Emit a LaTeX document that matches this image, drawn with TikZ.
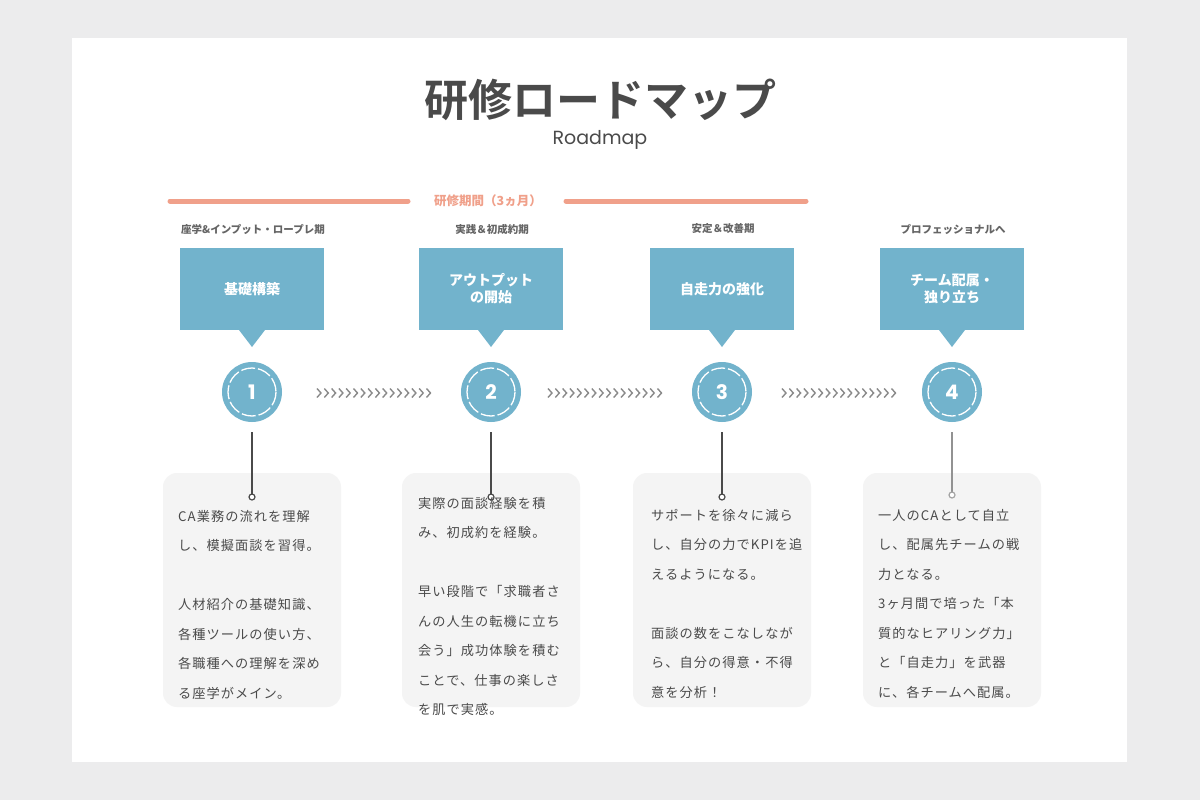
\documentclass[tikz,border=0pt]{standalone}
\usepackage{fontspec}
\setmainfont{Noto Sans CJK JP}
\newfontfamily\jpb{Noto Sans CJK JP}[BoldFont={* Bold}]
\newfontfamily\jpsp{Noto Sans CJK JP}[LetterSpace=8]
\newfontfamily\popp{Poppins}
\definecolor{bgc}{HTML}{ECECED}
\definecolor{ink}{HTML}{4A4A4A}
\definecolor{salmon}{HTML}{F0A08A}
\definecolor{blu}{HTML}{72B3CC}
\definecolor{cardc}{HTML}{F4F4F4}
\definecolor{chev}{HTML}{8A8A8A}
\begin{document}
\begin{tikzpicture}[x=1pt,y=-1pt,
 phase/.style={font=\fontsize{10.5}{12}\selectfont\bfseries, text=ink!85},
 bbox/.style={fill=blu, minimum width=144, minimum height=82, inner sep=0, text=white, align=center, font=\fontsize{14}{17}\selectfont\bfseries},
 num/.style={circle, fill=blu, minimum size=60, text=white, font=\popp\fontsize{20}{20}\selectfont\bfseries},
 card/.style={fill=cardc, rounded corners=14, minimum width=178, minimum height=234, inner sep=0},
 body/.style={anchor=north west, align=left, inner sep=0, text=ink, font=\jpsp\fontsize{13.2}{29.5}\selectfont},
 dot/.style={circle, draw=#1, fill=white, line width=1.2, inner sep=0, minimum size=6},
 stem/.style={line width=1.6}]
\fill[bgc] (0,0) rectangle (1200,800);
\fill[white] (72,38) rectangle (1127,762);
\useasboundingbox (0,0) rectangle (1200,800);
\node[font=\jpb\fontsize{44}{44}\selectfont\bfseries, text=ink] (title) at (600,100) {研修ロードマップ};
\node[font=\popp\fontsize{19}{19}\selectfont, text=ink] (sub) at (600,140) {Roadmap};
\node[font=\fontsize{12.5}{13}\selectfont\bfseries, text=salmon] (period) at (488,201) {研修期間（3ヵ月）};
\draw[salmon, line width=5, line cap=round] (170,201) -- (408,201);
\draw[salmon, line width=5, line cap=round] (566,201) -- (806,201);
\foreach \i/\x/\lab/\top in {1/252/座学\&インプット・ロープレ期/基礎構築,2/491/実践＆初成約期/アウトプット\\の開始,3/722/安定＆改善期/自走力の強化,4/952/プロフェッショナルへ/チーム配属・\\独り立ち}{
  \node[phase] (ph\i) at (\x+1,229) {\lab};
  \node[bbox] (b\i) at (\x,289) {\top};
  \fill[blu] (\x-13,330) -- (\x+13,330) -- (\x,347) -- cycle;
  \node[num] (n\i) at (\x,392) {\i};
  \draw[white, line width=1.3, dash pattern=on 14pt off 3pt] (n\i.center) circle (24);
  \node[card] (c\i) at (\x,590) {};
}
\foreach \i in {1,2,3}{\coordinate (d\i) at (n\i |- 0,497);
  \draw[stem, ink] (n\i.south) ++(0,10) -- (d\i); \node[dot=ink] at (d\i) {};}
\coordinate (d4) at (n4 |- 0,495);
\draw[stem, ink!60] (n4.south) ++(0,10) -- (d4); \node[dot=ink!50] at (d4) {};
\foreach \s in {317,548,782}{
  \foreach \k in {0,...,15}{
    \draw[chev, line width=1.4] (\s+\k*7.3,388.5) -- (\s+\k*7.3+4,393) -- (\s+\k*7.3,397.5);
  }}
\node[body] (t1) at (178,510) {CA業務の流れを理解\\し、模擬面談を習得。\\[29.5pt]人材紹介の基礎知識、\\各種ツールの使い方、\\各職種への理解を深め\\る座学がメイン。};
\node[body] (t2) at (418,497) {実際の面談経験を積\\み、初成約を経験。\\[29.5pt]早い段階で「求職者さ\\んの人生の転機に立ち\\会う」成功体験を積む\\ことで、仕事の楽しさ\\を肌で実感。};
\node[body] (t3) at (651,509) {サポートを徐々に減ら\\し、自分の力でKPIを追\\えるようになる。\\[29.5pt]面談の数をこなしなが\\ら、自分の得意・不得\\意を分析！};
\node[body] (t4) at (878,509) {一人のCAとして自立\\し、配属先チームの戦\\力となる。\\3ヶ月間で培った「本\\質的なヒアリング力」\\と「自走力」を武器\\に、各チームへ配属。};
\end{tikzpicture}
\end{document}
